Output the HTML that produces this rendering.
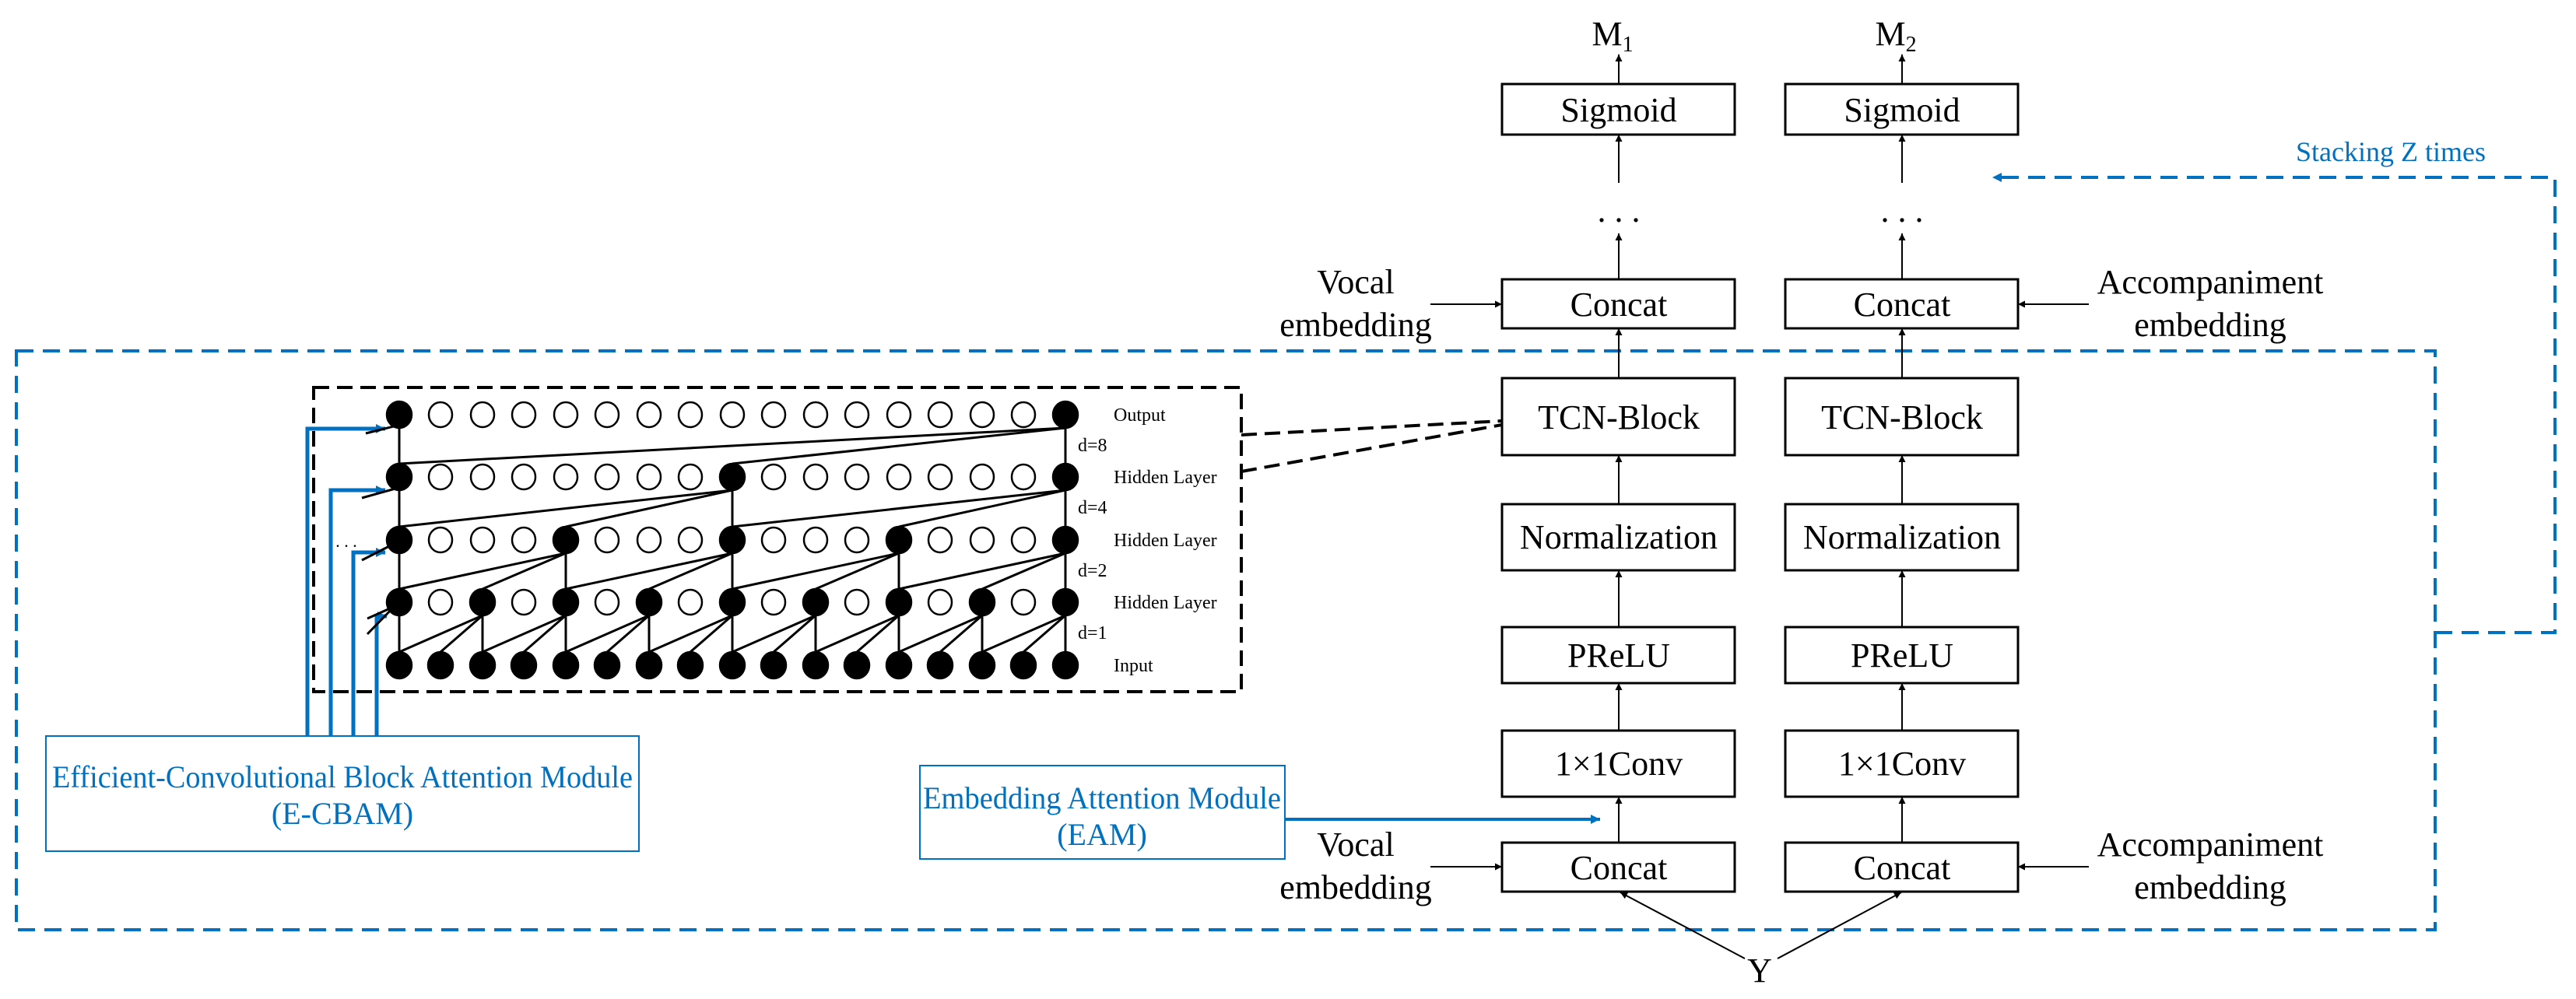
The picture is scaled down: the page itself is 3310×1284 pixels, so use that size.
<!DOCTYPE html>
<html><head><meta charset="utf-8"><style>html,body{margin:0;padding:0;background:#fff}svg{display:block}svg text{font-family:"Liberation Serif","Times New Roman",serif}</style></head>
<body>
<svg xmlns="http://www.w3.org/2000/svg" width="3310" height="1284" viewBox="0 0 3310 1284" font-family="'Liberation Serif', serif">
<defs>
<marker id="a" viewBox="0 0 10 10" refX="10" refY="5" markerWidth="9" markerHeight="9" markerUnits="userSpaceOnUse" orient="auto"><path d="M0,0L10,5L0,10z" fill="#000"/></marker>
<marker id="b" viewBox="0 0 10 10" refX="10" refY="5" markerWidth="12" markerHeight="12" markerUnits="userSpaceOnUse" orient="auto"><path d="M0,0L10,5L0,10z" fill="#0070C0"/></marker>
</defs>
<g stroke="#0070C0" stroke-width="4" fill="none" stroke-dasharray="22,12">
<rect x="21" y="451" width="3108" height="744"/>
<polyline points="3129,813 3283,813 3283,228 2560,228" marker-end="url(#b)"/>
</g>
<text x="3072" y="207" font-size="36" fill="#0070C0" text-anchor="middle">Stacking Z times</text>
<g stroke="#000" stroke-width="3" fill="#fff">
<rect x="1930" y="108" width="299" height="65"/><rect x="2294" y="108" width="299" height="65"/>
<rect x="1930" y="359" width="299" height="63"/><rect x="2294" y="359" width="299" height="63"/>
<rect x="1930" y="486" width="299" height="99"/><rect x="2294" y="486" width="299" height="99"/>
<rect x="1930" y="648" width="299" height="85"/><rect x="2294" y="648" width="299" height="85"/>
<rect x="1930" y="806" width="299" height="72"/><rect x="2294" y="806" width="299" height="72"/>
<rect x="1930" y="939" width="299" height="85"/><rect x="2294" y="939" width="299" height="85"/>
<rect x="1930" y="1083" width="299" height="63"/><rect x="2294" y="1083" width="299" height="63"/>
</g>
<g font-size="44" text-anchor="middle">
<text x="2080" y="156">Sigmoid</text><text x="2444" y="156">Sigmoid</text>
<text x="2080" y="406">Concat</text><text x="2444" y="406">Concat</text>
<text x="2080" y="551">TCN-Block</text><text x="2444" y="551">TCN-Block</text>
<text x="2080" y="705">Normalization</text><text x="2444" y="705">Normalization</text>
<text x="2080" y="857">PReLU</text><text x="2444" y="857">PReLU</text>
<text x="2080" y="996">1×1Conv</text><text x="2444" y="996">1×1Conv</text>
<text x="2080" y="1130">Concat</text><text x="2444" y="1130">Concat</text>
<text x="2080" y="285">. . .</text><text x="2444" y="285">. . .</text>
<text x="2261" y="1262">Y</text>
<text x="1742" y="377">Vocal</text><text x="1742" y="432">embedding</text>
<text x="1742" y="1100">Vocal</text><text x="1742" y="1155">embedding</text>
<text x="2840" y="377">Accompaniment</text><text x="2840" y="432">embedding</text>
<text x="2840" y="1100">Accompaniment</text><text x="2840" y="1155">embedding</text>
<text x="2072" y="58">M<tspan font-size="28" dy="8">1</tspan></text>
<text x="2436" y="58">M<tspan font-size="28" dy="8">2</tspan></text>
</g>
<g stroke="#000" stroke-width="2" marker-end="url(#a)">
<line x1="2080" y1="108" x2="2080" y2="70"/><line x1="2444" y1="108" x2="2444" y2="70"/>
<line x1="2080" y1="235" x2="2080" y2="173"/><line x1="2444" y1="235" x2="2444" y2="173"/>
<line x1="2080" y1="359" x2="2080" y2="300"/><line x1="2444" y1="359" x2="2444" y2="300"/>
<line x1="2080" y1="486" x2="2080" y2="422"/><line x1="2444" y1="486" x2="2444" y2="422"/>
<line x1="2080" y1="648" x2="2080" y2="585"/><line x1="2444" y1="648" x2="2444" y2="585"/>
<line x1="2080" y1="806" x2="2080" y2="733"/><line x1="2444" y1="806" x2="2444" y2="733"/>
<line x1="2080" y1="939" x2="2080" y2="878"/><line x1="2444" y1="939" x2="2444" y2="878"/>
<line x1="2080" y1="1083" x2="2080" y2="1024"/><line x1="2444" y1="1083" x2="2444" y2="1024"/>
<line x1="1838" y1="391" x2="1930" y2="391"/><line x1="2684" y1="391" x2="2593" y2="391"/>
<line x1="1838" y1="1114" x2="1930" y2="1114"/><line x1="2684" y1="1114" x2="2593" y2="1114"/>
<line x1="2242" y1="1232" x2="2082" y2="1147"/><line x1="2284" y1="1232" x2="2443" y2="1147"/>
</g>
<g stroke="#000" stroke-width="4" fill="none" stroke-dasharray="20,10">
<rect x="403" y="498" width="1192" height="391"/>
<line x1="1595" y1="559" x2="1930" y2="541"/><line x1="1595" y1="606" x2="1930" y2="546"/>
</g>
<g stroke="#0070C0" stroke-width="2" fill="none">
<rect x="59" y="946" width="762" height="148"/>
<rect x="1182" y="984" width="469" height="120"/>
</g>
<line x1="1651" y1="1053" x2="2056" y2="1053" stroke="#0070C0" stroke-width="4" marker-end="url(#b)"/>
<g fill="#0070C0" font-size="40" text-anchor="middle">
<text x="440" y="1012" textLength="746" lengthAdjust="spacingAndGlyphs">Efficient-Convolutional Block Attention Module</text>
<text x="440" y="1059">(E-CBAM)</text>
<text x="1416" y="1039" textLength="460" lengthAdjust="spacingAndGlyphs">Embedding Attention Module</text>
<text x="1416" y="1086">(EAM)</text>
</g>
<g stroke="#0070C0" stroke-width="5" fill="none">
<polyline points="395,946 395,551 495,551" marker-end="url(#b)"/>
<polyline points="425,946 425,630 495,630" marker-end="url(#b)"/>
<polyline points="454,946 454,710 495,710" marker-end="url(#b)"/>
<polyline points="484,946 484,792 497,792" marker-end="url(#b)"/>
</g>
<g stroke="#000" stroke-width="3">
<line x1="470" y1="557" x2="510" y2="547"/><line x1="465" y1="640" x2="508" y2="628"/>
<line x1="465" y1="720" x2="508" y2="698"/><line x1="472" y1="795" x2="510" y2="778"/>
<line x1="472" y1="815" x2="508" y2="778"/>
</g>
<text x="445" y="703" font-size="22" text-anchor="middle">. . .</text>
<g font-size="24">
<text x="1431" y="541">Output</text>
<text x="1431" y="621">Hidden Layer</text>
<text x="1431" y="702">Hidden Layer</text>
<text x="1431" y="782">Hidden Layer</text>
<text x="1431" y="863">Input</text>
<text x="1385" y="580">d=8</text><text x="1385" y="660">d=4</text><text x="1385" y="741">d=2</text><text x="1385" y="821">d=1</text>
</g>
<g stroke="#000" stroke-width="3">
<line x1="513" y1="872" x2="513" y2="791"/><line x1="513" y1="791" x2="513" y2="711"/><line x1="513" y1="711" x2="513" y2="630"/><line x1="513" y1="630" x2="513" y2="550"/>
<line x1="620" y1="872" x2="620" y2="791"/><line x1="620" y1="791" x2="513" y2="838"/><line x1="620" y1="791" x2="566" y2="838"/><line x1="620" y1="791" x2="620" y2="838"/>
<line x1="727" y1="791" x2="620" y2="838"/><line x1="727" y1="791" x2="673" y2="838"/><line x1="727" y1="791" x2="727" y2="838"/>
<line x1="834" y1="791" x2="727" y2="838"/><line x1="834" y1="791" x2="780" y2="838"/><line x1="834" y1="791" x2="834" y2="838"/>
<line x1="941" y1="791" x2="834" y2="838"/><line x1="941" y1="791" x2="887" y2="838"/><line x1="941" y1="791" x2="941" y2="838"/>
<line x1="1048" y1="791" x2="941" y2="838"/><line x1="1048" y1="791" x2="994" y2="838"/><line x1="1048" y1="791" x2="1048" y2="838"/>
<line x1="1155" y1="791" x2="1048" y2="838"/><line x1="1155" y1="791" x2="1101" y2="838"/><line x1="1155" y1="791" x2="1155" y2="838"/>
<line x1="1262" y1="791" x2="1155" y2="838"/><line x1="1262" y1="791" x2="1208" y2="838"/><line x1="1262" y1="791" x2="1262" y2="838"/>
<line x1="1369" y1="791" x2="1262" y2="838"/><line x1="1369" y1="791" x2="1315" y2="838"/><line x1="1369" y1="791" x2="1369" y2="838"/>
<line x1="727" y1="711" x2="513" y2="757"/><line x1="727" y1="711" x2="620" y2="757"/><line x1="727" y1="711" x2="727" y2="757"/>
<line x1="941" y1="711" x2="727" y2="757"/><line x1="941" y1="711" x2="834" y2="757"/><line x1="941" y1="711" x2="941" y2="757"/>
<line x1="1155" y1="711" x2="941" y2="757"/><line x1="1155" y1="711" x2="1048" y2="757"/><line x1="1155" y1="711" x2="1155" y2="757"/>
<line x1="1369" y1="711" x2="1155" y2="757"/><line x1="1369" y1="711" x2="1262" y2="757"/><line x1="1369" y1="711" x2="1369" y2="757"/>
<line x1="941" y1="630" x2="513" y2="677"/><line x1="941" y1="630" x2="727" y2="677"/><line x1="941" y1="630" x2="941" y2="677"/>
<line x1="1369" y1="630" x2="941" y2="677"/><line x1="1369" y1="630" x2="1155" y2="677"/><line x1="1369" y1="630" x2="1369" y2="677"/>
<line x1="1369" y1="550" x2="513" y2="596"/><line x1="1369" y1="550" x2="941" y2="596"/><line x1="1369" y1="550" x2="1369" y2="596"/>
</g>
<g stroke="#000" stroke-width="2.5">
<g fill="#000">
<ellipse cx="513" cy="533" rx="16" ry="17"/><ellipse cx="1369" cy="533" rx="16" ry="17"/>
<ellipse cx="513" cy="613" rx="16" ry="17"/><ellipse cx="941" cy="613" rx="16" ry="17"/><ellipse cx="1369" cy="613" rx="16" ry="17"/>
<ellipse cx="513" cy="694" rx="16" ry="17"/><ellipse cx="727" cy="694" rx="16" ry="17"/><ellipse cx="941" cy="694" rx="16" ry="17"/><ellipse cx="1155" cy="694" rx="16" ry="17"/><ellipse cx="1369" cy="694" rx="16" ry="17"/>
<ellipse cx="513" cy="774" rx="16" ry="17"/><ellipse cx="620" cy="774" rx="16" ry="17"/><ellipse cx="727" cy="774" rx="16" ry="17"/><ellipse cx="834" cy="774" rx="16" ry="17"/><ellipse cx="941" cy="774" rx="16" ry="17"/><ellipse cx="1048" cy="774" rx="16" ry="17"/><ellipse cx="1155" cy="774" rx="16" ry="17"/><ellipse cx="1262" cy="774" rx="16" ry="17"/><ellipse cx="1369" cy="774" rx="16" ry="17"/>
<ellipse cx="513" cy="855" rx="16" ry="17"/><ellipse cx="566" cy="855" rx="16" ry="17"/><ellipse cx="620" cy="855" rx="16" ry="17"/><ellipse cx="673" cy="855" rx="16" ry="17"/><ellipse cx="727" cy="855" rx="16" ry="17"/><ellipse cx="780" cy="855" rx="16" ry="17"/><ellipse cx="834" cy="855" rx="16" ry="17"/><ellipse cx="887" cy="855" rx="16" ry="17"/><ellipse cx="941" cy="855" rx="16" ry="17"/><ellipse cx="994" cy="855" rx="16" ry="17"/><ellipse cx="1048" cy="855" rx="16" ry="17"/><ellipse cx="1101" cy="855" rx="16" ry="17"/><ellipse cx="1155" cy="855" rx="16" ry="17"/><ellipse cx="1208" cy="855" rx="16" ry="17"/><ellipse cx="1262" cy="855" rx="16" ry="17"/><ellipse cx="1315" cy="855" rx="16" ry="17"/><ellipse cx="1369" cy="855" rx="16" ry="17"/>
</g>
<g fill="#fff">
<ellipse cx="566" cy="533" rx="15" ry="16"/><ellipse cx="620" cy="533" rx="15" ry="16"/><ellipse cx="673" cy="533" rx="15" ry="16"/><ellipse cx="727" cy="533" rx="15" ry="16"/><ellipse cx="780" cy="533" rx="15" ry="16"/><ellipse cx="834" cy="533" rx="15" ry="16"/><ellipse cx="887" cy="533" rx="15" ry="16"/><ellipse cx="941" cy="533" rx="15" ry="16"/><ellipse cx="994" cy="533" rx="15" ry="16"/><ellipse cx="1048" cy="533" rx="15" ry="16"/><ellipse cx="1101" cy="533" rx="15" ry="16"/><ellipse cx="1155" cy="533" rx="15" ry="16"/><ellipse cx="1208" cy="533" rx="15" ry="16"/><ellipse cx="1262" cy="533" rx="15" ry="16"/><ellipse cx="1315" cy="533" rx="15" ry="16"/>
<ellipse cx="566" cy="613" rx="15" ry="16"/><ellipse cx="620" cy="613" rx="15" ry="16"/><ellipse cx="673" cy="613" rx="15" ry="16"/><ellipse cx="727" cy="613" rx="15" ry="16"/><ellipse cx="780" cy="613" rx="15" ry="16"/><ellipse cx="834" cy="613" rx="15" ry="16"/><ellipse cx="887" cy="613" rx="15" ry="16"/><ellipse cx="994" cy="613" rx="15" ry="16"/><ellipse cx="1048" cy="613" rx="15" ry="16"/><ellipse cx="1101" cy="613" rx="15" ry="16"/><ellipse cx="1155" cy="613" rx="15" ry="16"/><ellipse cx="1208" cy="613" rx="15" ry="16"/><ellipse cx="1262" cy="613" rx="15" ry="16"/><ellipse cx="1315" cy="613" rx="15" ry="16"/>
<ellipse cx="566" cy="694" rx="15" ry="16"/><ellipse cx="620" cy="694" rx="15" ry="16"/><ellipse cx="673" cy="694" rx="15" ry="16"/><ellipse cx="780" cy="694" rx="15" ry="16"/><ellipse cx="834" cy="694" rx="15" ry="16"/><ellipse cx="887" cy="694" rx="15" ry="16"/><ellipse cx="994" cy="694" rx="15" ry="16"/><ellipse cx="1048" cy="694" rx="15" ry="16"/><ellipse cx="1101" cy="694" rx="15" ry="16"/><ellipse cx="1208" cy="694" rx="15" ry="16"/><ellipse cx="1262" cy="694" rx="15" ry="16"/><ellipse cx="1315" cy="694" rx="15" ry="16"/>
<ellipse cx="566" cy="774" rx="15" ry="16"/><ellipse cx="673" cy="774" rx="15" ry="16"/><ellipse cx="780" cy="774" rx="15" ry="16"/><ellipse cx="887" cy="774" rx="15" ry="16"/><ellipse cx="994" cy="774" rx="15" ry="16"/><ellipse cx="1101" cy="774" rx="15" ry="16"/><ellipse cx="1208" cy="774" rx="15" ry="16"/><ellipse cx="1315" cy="774" rx="15" ry="16"/>
</g>
</g>
</svg>
</body></html>
